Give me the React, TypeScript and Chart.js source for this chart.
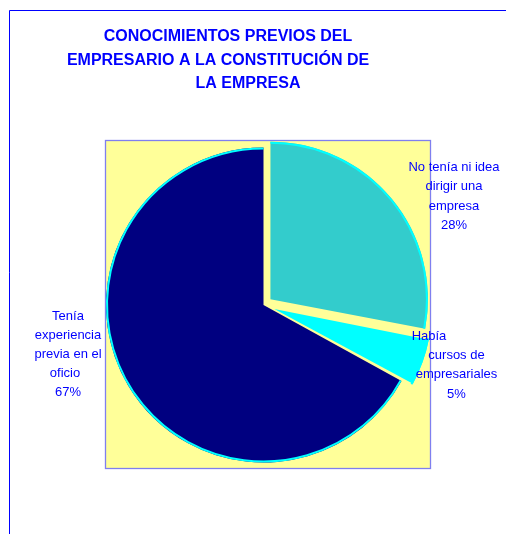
import React, { useEffect, useRef } from 'react';
import { Chart, registerables } from 'chart.js';

Chart.register(...registerables);

// ---- data ----
const categories = [
  'No tenía ni idea dirigir una empresa',
  'Había cursos de empresariales',
  'Tenía experiencia previa en el oficio',
];
const values = [28, 5, 67];
const percentLabels = ['28%', '5%', '67%'];
const sliceColors = ['#33CCCC', '#00FFFF', '#000080'];
const sliceOffsets = [36, 46, 0];
const labelLines = [
  ['No tenía ni idea', 'dirigir una', 'empresa'],
  ['Había', 'cursos de', 'empresariales'],
  ['Tenía', 'experiencia', 'previa en el', 'oficio'],
];
const titleLines = ['CONOCIMIENTOS PREVIOS DEL', 'EMPRESARIO A LA CONSTITUCIÓN DE', 'LA EMPRESA'];

// ---- layout / style (not data) ----
const W = 506;
const H = 534;
const FONT = '"Liberation Sans", Arial, sans-serif';
const BLUE = '#0000FF';
const titleLayout = { xs: [228, 218, 248], baselines: [41, 64.5, 87.5] };
const plotBox = { left: 105.5, top: 140.5, right: 430.5, bottom: 468.5 };
const labelLayout = [
  { x: 454, y: 170.5, lh: 19.6, dx: [0, 0, 0, 0] },
  { x: 456.5, y: 339.5, lh: 19.4, dx: [-27.5, 0, 0, 0] },
  { x: 68, y: 319.5, lh: 19.2, dx: [0, 0, 0, -3, 0] },
];

const decorPlugin = {
  id: 'decor',
  afterDatasetUpdate(chart: any, args: any) {
    // keep exploded slices at the same radius as the others
    const arcs = args.meta.data;
    arcs.forEach((arc: any) => {
      const off = (arc.options?.offset || 0) / 4;
      const circ = arc.endAngle - arc.startAngle;
      const grow = off * (1 - Math.sin(Math.min(Math.PI, circ)));
      arc.outerRadius = arc.outerRadius - grow;
    });
  },
  beforeDatasetsDraw(chart: any) {
    const ctx = chart.ctx;
    ctx.save();
    // outer frame lines
    ctx.strokeStyle = BLUE;
    ctx.lineWidth = 1;
    ctx.beginPath();
    ctx.moveTo(9.5, H);
    ctx.lineTo(9.5, 10.5);
    ctx.lineTo(W, 10.5);
    ctx.stroke();
    // plot area
    ctx.fillStyle = '#FFFF99';
    ctx.fillRect(plotBox.left, plotBox.top, plotBox.right - plotBox.left, plotBox.bottom - plotBox.top);
    ctx.strokeStyle = '#7F7FEF';
    ctx.lineWidth = 1.3;
    ctx.strokeRect(plotBox.left, plotBox.top, plotBox.right - plotBox.left, plotBox.bottom - plotBox.top);
    // title
    ctx.fillStyle = BLUE;
    ctx.font = 'bold 16px ' + FONT;
    ctx.textAlign = 'center';
    ctx.textBaseline = 'alphabetic';
    titleLines.forEach((t, i) => ctx.fillText(t, titleLayout.xs[i], titleLayout.baselines[i]));
    ctx.restore();
  },
  afterDatasetsDraw(chart: any) {
    const ctx = chart.ctx;
    const meta = chart.getDatasetMeta(0);
    ctx.save();
    // cyan outline on the outer arc of each slice
    ctx.strokeStyle = '#00FFFF';
    ctx.lineWidth = 2;
    meta.data.forEach((arc: any) => {
      const off = (arc.options?.offset || 0) / 4;
      const mid = (arc.startAngle + arc.endAngle) / 2;
      const circ = arc.endAngle - arc.startAngle;
      const cx = arc.x + Math.cos(mid) * off;
      const cy = arc.y + Math.sin(mid) * off;
      const r = arc.outerRadius + off * (1 - Math.sin(Math.min(Math.PI, circ)));
      ctx.beginPath();
      ctx.arc(cx, cy, r - 1, arc.startAngle, arc.endAngle);
      ctx.stroke();
    });
    // data labels
    ctx.fillStyle = BLUE;
    ctx.font = '13px ' + FONT;
    ctx.textAlign = 'center';
    ctx.textBaseline = 'alphabetic';
    labelLines.forEach((lines, i) => {
      const L = labelLayout[i];
      const all = [...lines, percentLabels[i]];
      all.forEach((t, j) => {
        ctx.fillText(t, L.x + (L.dx[j] || 0), L.y + j * L.lh);
      });
    });
    ctx.restore();
  },
};

export default function App() {
  const ref = useRef<HTMLCanvasElement | null>(null);
  useEffect(() => {
    if (!ref.current) return;
    const cx = 263.5;
    const cy = 305;
    const half = 160;
    const chart = new Chart(ref.current, {
      type: 'pie',
      data: {
        labels: categories,
        datasets: [
          {
            data: values,
            backgroundColor: sliceColors,
            borderWidth: 0,
            offset: sliceOffsets,
          },
        ],
      },
      options: {
        responsive: false,
        animation: false,
        events: [],
        radius: 157.5,
        layout: {
          padding: { left: cx - half, right: W - (cx + half), top: cy - half, bottom: H - (cy + half) },
        },
        plugins: {
          legend: { display: false },
          tooltip: { enabled: false },
          title: { display: false },
        },
      } as any,
      plugins: [decorPlugin],
    });
    return () => chart.destroy();
  }, []);
  return (
    <div style={{ position: 'fixed', left: 0, top: 0, width: W, height: H, background: '#fff' }}>
      <canvas ref={ref} width={W} height={H} style={{ display: 'block', width: W, height: H }} />
    </div>
  );
}
